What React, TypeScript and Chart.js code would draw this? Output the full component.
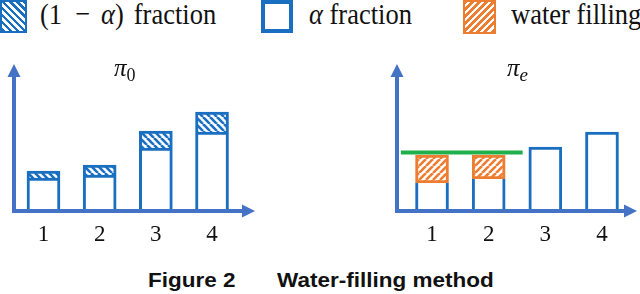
import React, { useEffect, useRef } from "react";
import { Chart, registerables } from "chart.js";

Chart.register(...registerables);

// ---- data ----
const categories = [1, 2, 3, 4];
const tickLabels = ["1", "2", "3", "4"];
// left panel (pi_0)
const alphaFraction0 = [1.7, 1.85, 3.2, 4.0];
const oneMinusAlpha0 = [0.35, 0.5, 0.85, 1.0];
// right panel (pi_e)
const alphaFractionE = [1.45, 1.65, 3.25, 4.0];
const waterFilling = [1.4, 1.2, null, null];
const waterLevel = 2.97;
const waterLineX = [0.45, 2.6];

const BLUE = "#1A6FC1";
const AXIS = "#4472C4";
const ORANGE = "#ED7D31";
const GREEN = "#1FAF4B";

function makePattern(bg: string, fg: string, dir: "\\" | "/", size = 7, lw = 2.6) {
  const c = document.createElement("canvas");
  c.width = size;
  c.height = size;
  const x = c.getContext("2d")!;
  x.fillStyle = bg;
  x.fillRect(0, 0, size, size);
  x.strokeStyle = fg;
  x.lineWidth = lw;
  for (let k = -1; k <= 1; k++) {
    x.beginPath();
    if (dir === "\\") {
      x.moveTo(k * size, 0);
      x.lineTo(k * size + size, size);
    } else {
      x.moveTo(k * size, size);
      x.lineTo(k * size + size, 0);
    }
    x.stroke();
  }
  return x.createPattern(c, "repeat")!;
}

const arrowAxes = {
  id: "arrowAxes",
  afterDatasetsDraw(chart: any) {
    const { ctx, chartArea } = chart;
    const L = chartArea.left;
    const B = chartArea.bottom - 1;
    const R = chartArea.right;
    const T = chartArea.top - 8;
    const al = 12;
    const aw = 6.5;
    ctx.save();
    ctx.strokeStyle = AXIS;
    ctx.fillStyle = AXIS;
    ctx.lineWidth = 4;
    ctx.beginPath();
    ctx.moveTo(L, B + 2);
    ctx.lineTo(L, T + al);
    ctx.moveTo(L - 2, B);
    ctx.lineTo(R - al, B);
    ctx.stroke();
    ctx.beginPath();
    ctx.moveTo(L, T);
    ctx.lineTo(L - aw, T + al + 1);
    ctx.lineTo(L + aw, T + al + 1);
    ctx.closePath();
    ctx.fill();
    ctx.beginPath();
    ctx.moveTo(R, B);
    ctx.lineTo(R - al - 1, B - aw);
    ctx.lineTo(R - al - 1, B + aw);
    ctx.closePath();
    ctx.fill();
    ctx.restore();
  },
};

function baseOptions(xmin: number, xmax: number, pad: any) {
  return {
    responsive: false,
    animation: false as const,
    layout: { padding: pad },
    plugins: { legend: { display: false }, tooltip: { enabled: false }, title: { display: false } },
    scales: {
      x: {
        type: "linear" as const,
        min: xmin,
        max: xmax,
        offset: false,
        stacked: true,
        grid: { display: false, drawTicks: false, offset: false },
        border: { display: false },
        afterBuildTicks: (s: any) => {
          s.ticks = categories.map((v) => ({ value: v }));
        },
        afterFit: (s: any) => {
          s.height = 43;
        },
        ticks: {
          padding: 9,
          color: "#111",
          font: { family: "'Liberation Serif', serif", size: 23 },
          callback: (v: any) => tickLabels[categories.indexOf(v)] ?? "",
        },
      },
      y: {
        display: false,
        stacked: true,
        min: 0,
        max: 7,
      },
    },
  };
}

function LeftChart() {
  const ref = useRef<HTMLCanvasElement>(null);
  useEffect(() => {
    const hatch = makePattern("#ffffff", BLUE, "\\");
    const chart = new Chart(ref.current!, {
      type: "bar",
      data: {
        datasets: [
          {
            label: "α fraction",
            data: categories.map((c, i) => ({ x: c, y: alphaFraction0[i] })),
            backgroundColor: "#ffffff",
            borderColor: BLUE,
            borderWidth: 3,
            borderSkipped: "start",
            barThickness: 33,
          },
          {
            label: "(1 − α) fraction",
            data: categories.map((c, i) => ({ x: c, y: oneMinusAlpha0[i] })),
            backgroundColor: hatch,
            borderColor: BLUE,
            borderWidth: { top: 3, left: 3, right: 3, bottom: 0 },
            borderSkipped: false,
            barThickness: 33,
          },
        ],
      } as any,
      options: baseOptions(0.475, 4.765, { left: 14, right: 25, top: 32, bottom: 0 }) as any,
      plugins: [arrowAxes],
    });
    return () => chart.destroy();
  }, []);
  return <canvas ref={ref} width={280} height={215} style={{ position: "absolute", left: 0, top: 40, width: 280, height: 215 }} />;
}

function RightChart() {
  const ref = useRef<HTMLCanvasElement>(null);
  useEffect(() => {
    const hatch = makePattern("#ffffff", ORANGE, "/");
    const chart = new Chart(ref.current!, {
      type: "bar",
      data: {
        datasets: [
          {
            label: "α fraction",
            data: categories.map((c, i) => ({ x: c, y: alphaFractionE[i] })),
            backgroundColor: "#ffffff",
            borderColor: BLUE,
            borderWidth: (ctx: any) =>
              waterFilling[ctx.dataIndex] ? { top: 0, left: 3, right: 3, bottom: 0 } : { top: 3, left: 3, right: 3, bottom: 0 },
            borderSkipped: false,
            barThickness: 33,
          },
          {
            label: "water filling",
            data: categories.map((c, i) => ({ x: c, y: waterFilling[i] })),
            backgroundColor: hatch,
            borderColor: ORANGE,
            borderWidth: 3,
            borderSkipped: false,
            barThickness: 33,
          },
          {
            type: "line",
            label: "water level",
            stack: "level",
            data: waterLineX.map((x) => ({ x, y: waterLevel })),
            borderColor: GREEN,
            borderWidth: 4,
            pointRadius: 0,
            fill: false,
          },
        ],
      } as any,
      options: baseOptions(0.382, 4.618, { left: 27, right: 3, top: 32, bottom: 0 }) as any,
      plugins: [arrowAxes],
    });
    return () => chart.destroy();
  }, []);
  return <canvas ref={ref} width={270} height={215} style={{ position: "absolute", left: 370, top: 40, width: 270, height: 215 }} />;
}

const serif = "'Liberation Serif', 'Times New Roman', serif";

function LegendText({ left, children }: { left: number; children: React.ReactNode }) {
  return (
    <div
      style={{
        position: "absolute",
        left,
        top: -3,
        fontFamily: serif,
        fontSize: 26.5,
        lineHeight: "30px",
        whiteSpace: "nowrap",
        color: "#111",
        transform: "scaleY(1.14)",
        transformOrigin: "left top",
      }}
    >
      {children}
    </div>
  );
}

const capStyle: React.CSSProperties = {
  position: "absolute",
  top: 270,
  fontFamily: "'Liberation Sans', Arial, sans-serif",
  fontWeight: "bold",
  fontSize: 22.5,
  lineHeight: "24px",
  color: "#111",
  whiteSpace: "nowrap",
  transform: "scaleY(0.88)",
  transformOrigin: "left top",
};

export default function App() {
  return (
    <div style={{ position: "absolute", left: 0, top: 0, width: 640, height: 294, background: "#fff", overflow: "hidden" }}>
      {/* legend */}
      <div
        style={{
          position: "absolute",
          left: 0,
          top: 0,
          width: 27,
          height: 33,
          boxSizing: "border-box",
          border: `2px solid ${BLUE}`,
          background: `repeating-linear-gradient(45deg, ${BLUE} 0px, ${BLUE} 2.6px, #fff 2.6px, #fff 5px)`,
        }}
      />
      <LegendText left={40}>
        <span>(1</span>
        <span style={{ margin: "0 11px 0 13px" }}>−</span>
        <i>α</i>
        <span>)</span>
        <span style={{ marginLeft: 10 }}>fraction</span>
      </LegendText>
      <div
        style={{
          position: "absolute",
          left: 261,
          top: 0,
          width: 32,
          height: 33,
          boxSizing: "border-box",
          border: `4px solid ${BLUE}`,
          background: "#fff",
        }}
      />
      <LegendText left={309}>
        <i>α</i> fraction
      </LegendText>
      <div
        style={{
          position: "absolute",
          left: 463,
          top: 0,
          width: 33,
          height: 34,
          boxSizing: "border-box",
          border: `2px solid ${ORANGE}`,
          background: `repeating-linear-gradient(-45deg, ${ORANGE} 0px, ${ORANGE} 2.8px, #fff 2.8px, #fff 5px)`,
        }}
      />
      <LegendText left={511}>water filling</LegendText>

      <LeftChart />
      <RightChart />

      {/* panel titles */}
      <div style={{ position: "absolute", left: 114, top: 54, fontFamily: serif, fontSize: 25, color: "#111", whiteSpace: "nowrap" }}>
        <i>π</i>
        <span style={{ fontSize: 18, position: "relative", top: 5 }}>0</span>
      </div>
      <div style={{ position: "absolute", left: 507, top: 54, fontFamily: serif, fontSize: 25, color: "#111", whiteSpace: "nowrap" }}>
        <i>π</i>
        <i style={{ fontSize: 19, position: "relative", top: 5 }}>e</i>
      </div>

      {/* caption */}
      <div style={{ ...capStyle, left: 148 }}>Figure 2</div>
      <div style={{ ...capStyle, left: 277 }}>Water-filling method</div>
    </div>
  );
}
